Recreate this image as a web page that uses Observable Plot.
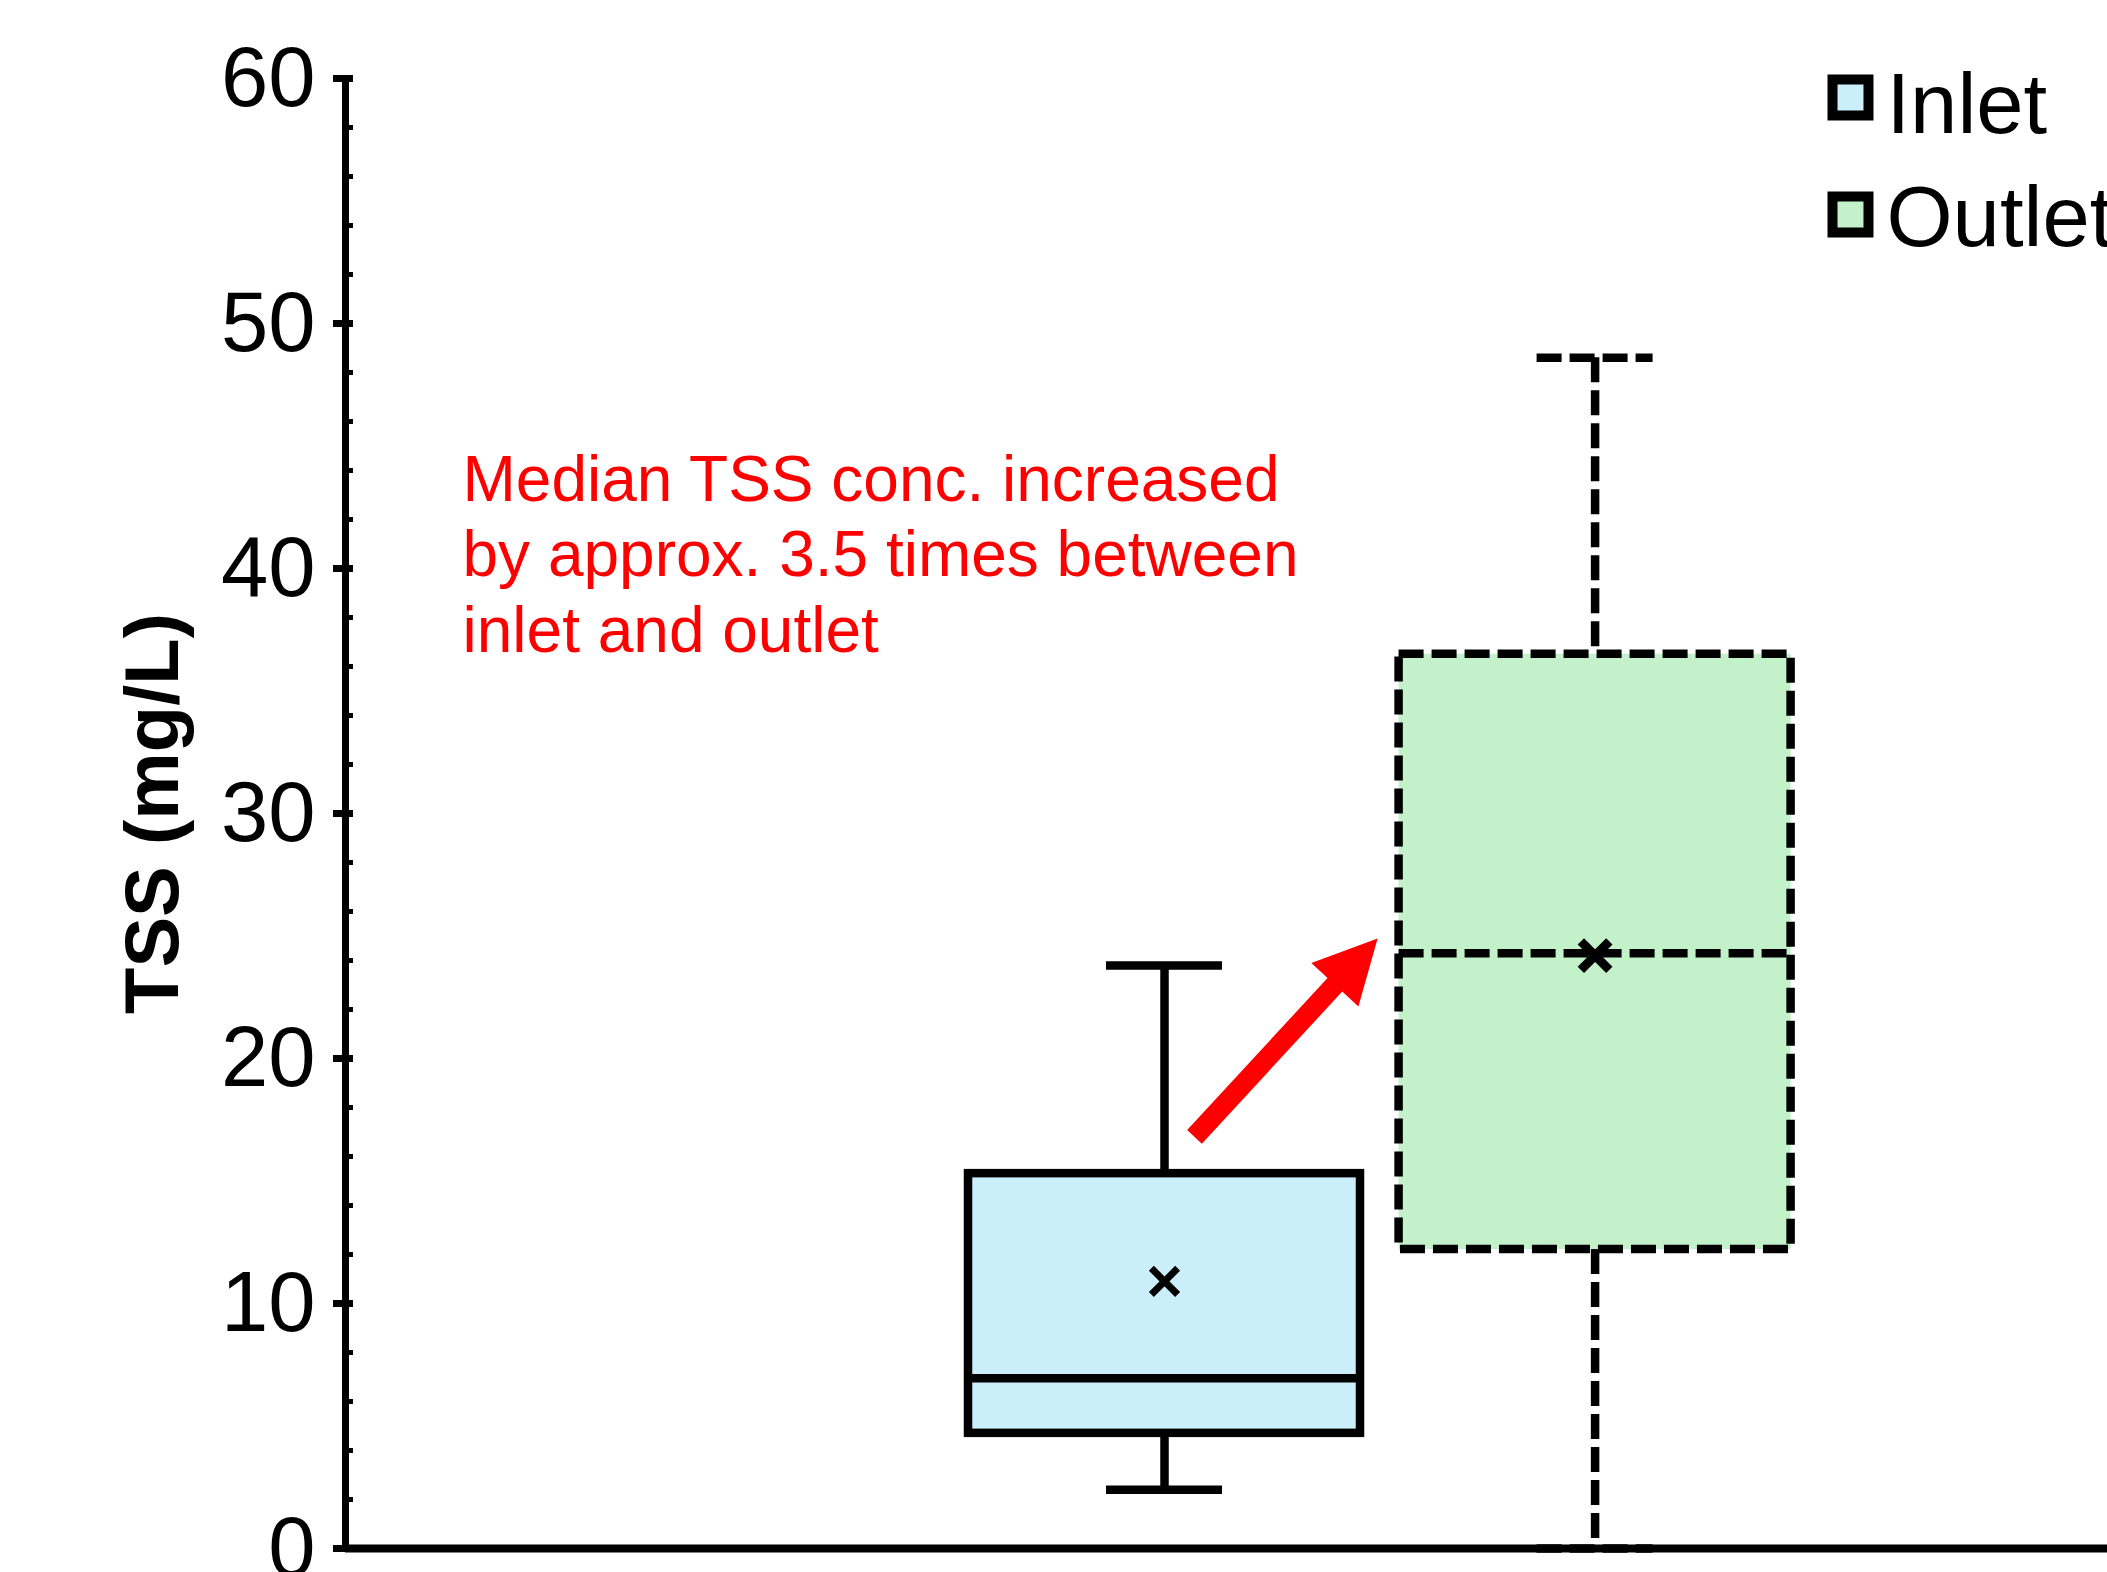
<!DOCTYPE html>
<html><head><meta charset="utf-8">
<script src="https://cdn.jsdelivr.net/npm/d3@7"></script>
<script src="https://cdn.jsdelivr.net/npm/@observablehq/plot@0.6"></script>
<style>html,body{margin:0;padding:0;background:#fff;overflow:hidden}</style>
</head><body><div id="chart"></div>
<script>
// ---- data ----
const series = ["Inlet", "Outlet"];
const whiskerLow = [2.4, 0];
const quartile1 = [4.7, 12.2];
const medians = [6.95, 24.3];
const quartile3 = [15.3, 36.5];
const whiskerHigh = [23.8, 48.6];
const means = [10.9, 24.2];
const fills = ["#CBEEFB", "#C3F1C9"];
const yMajorTicks = [0, 10, 20, 30, 40, 50, 60];
const yMinorTicks = [2, 4, 6, 8, 12, 14, 16, 18, 22, 24, 26, 28, 32, 34, 36, 38, 42, 44, 46, 48, 52, 54, 56, 58];
const yLabel = "TSS (mg/L)";
const annotationLines = ["Median TSS conc. increased", "by approx. 3.5 times between", "inlet and outlet"];
const annotationY = 44.95;
const arrowStart = [{series: "Inlet", value: 16.8}];

const table = series.map((s, i) => ({
  series: s, low: whiskerLow[i], q1: quartile1[i], median: medians[i],
  q3: quartile3[i], high: whiskerHigh[i], mean: means[i], fill: fills[i]
}));

const font = "Liberation Sans, Arial, Helvetica, sans-serif";

function boxMarks(row) {
  const d = [row];
  const dash = row.series === "Outlet" ? "25,8" : undefined;
  const common = {x: "series", stroke: "black", strokeWidth: 8.5, strokeDasharray: dash};
  const big = row.series === "Outlet";
  return [
    Plot.ruleX(d, {...common, y1: "high", y2: "q3"}),
    Plot.ruleX(d, {...common, y1: "q1", y2: "low"}),
    Plot.tickY(d, {...common, y: "high", inset: 138}),
    Plot.tickY(d, {...common, y: "low", inset: 138}),
    Plot.barY(d, {...common, y1: "q1", y2: "q3", fill: row.fill}),
    Plot.tickY(d, {...common, y: "median"}),
    Plot.dot(d, {x: "series", y: "mean", symbol: "times", r: big ? 13 : 12, stroke: "black", strokeWidth: big ? 9 : 7})
  ];
}

const arrowShape = {
  draw(context, l) {
    const w = 10, hw = 32, h = 63;
    context.moveTo(-w, 0);
    context.lineTo(-w, -(l - h));
    context.lineTo(-hw, -(l - h));
    context.lineTo(0, -l);
    context.lineTo(hw, -(l - h));
    context.lineTo(w, -(l - h));
    context.lineTo(w, 0);
    context.closePath();
  }
};

const chart = Plot.plot({
  width: 2107,
  height: 1572,
  marginLeft: 345,
  marginRight: 0,
  marginTop: 78,
  marginBottom: 24,
  style: {fontFamily: font, color: "black", background: "white", overflow: "hidden"},
  x: {type: "band", domain: series, range: [968, 1790.6], paddingInner: 0.0896, paddingOuter: 0, round: false, axis: null},
  y: {domain: [0, 60], axis: null},
  marks: [
    ...table.flatMap(boxMarks),
    // axis lines
    Plot.frame({anchor: "left", stroke: "black", strokeWidth: 7}),
    Plot.ruleY([0], {stroke: "black", strokeWidth: 8}),
    // ticks
    Plot.axisY({ticks: yMinorTicks, tickSize: 8, dx: 8, strokeWidth: 5, fill: "none", label: null}),
    Plot.axisY({ticks: yMajorTicks, tickSize: 20, dx: 8, strokeWidth: 7, fill: "none", label: null}),
    Plot.axisY({ticks: yMajorTicks, tickSize: 0, tickPadding: 30, fontSize: 85, fill: "black", label: null}),
    // axis title
    Plot.text([yLabel], {frameAnchor: "left", dx: -192, rotate: -90, fontSize: 76, fontWeight: "bold", textAnchor: "middle", lineAnchor: "middle", fill: "black"}),
    // legend
    Plot.dot([series[0]], {frameAnchor: "top-right", dx: -257, dy: 19, symbol: "square", r: 20.3, fill: fills[0], stroke: "black", strokeWidth: 10}),
    Plot.dot([series[1]], {frameAnchor: "top-right", dx: -257, dy: 136, symbol: "square", r: 20.3, fill: fills[1], stroke: "black", strokeWidth: 10}),
    Plot.text([series[0]], {frameAnchor: "top-right", dx: -221, dy: 27, textAnchor: "start", lineAnchor: "middle", fontSize: 85, fill: "black"}),
    Plot.text([series[1]], {frameAnchor: "top-right", dx: -221, dy: 140, textAnchor: "start", lineAnchor: "middle", fontSize: 85, fill: "black"}),
    // annotation
    Plot.text([annotationLines.join("\n")], {frameAnchor: "left", y: () => annotationY, dx: 117, textAnchor: "start", lineAnchor: "top", lineHeight: 1.18, fontSize: 64, fill: "#FF0000"}),
    Plot.vector(arrowStart, {x: "series", y: "value", dx: 30, length: 270, rotate: 42.7, anchor: "start", shape: arrowShape, fill: "#FF0000", stroke: "none"})
  ]
});
document.getElementById("chart").appendChild(chart);
</script>
</body></html>
